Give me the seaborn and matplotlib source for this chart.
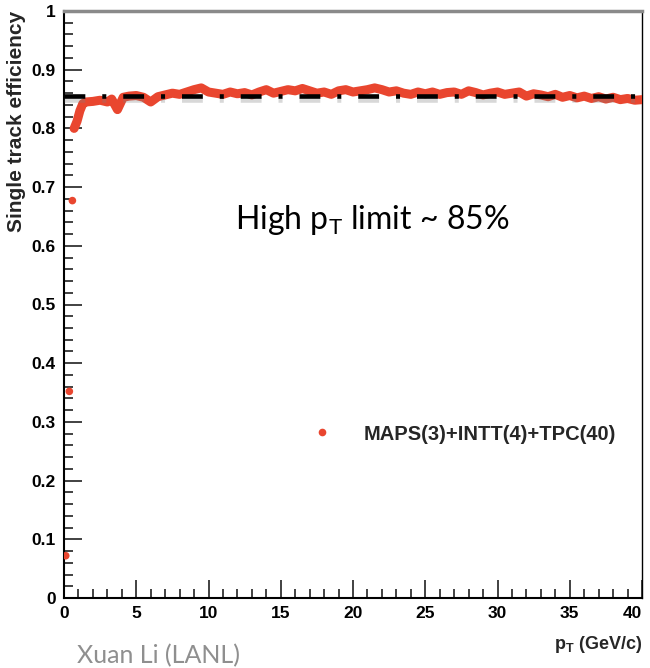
import matplotlib
matplotlib.use("Agg")
import matplotlib.pyplot as plt
import matplotlib.patheffects as pe
from matplotlib.lines import Line2D
from matplotlib.ticker import MultipleLocator
import seaborn as sns
import pandas as pd

# ---- data ----
pt_low = [0.12, 0.37, 0.58]
eff_low = [0.072, 0.352, 0.677]

pt_curve = [0.7, 0.9, 1.1, 1.3, 1.5, 2.0, 2.5, 3.0, 3.3, 3.7, 4.1, 4.5, 5.0, 5.5,
            6.0, 6.5, 7.0, 7.5, 8.0, 8.5, 9.0, 9.5, 10.0, 10.5, 11.0, 11.5, 12.0,
            12.5, 13.0, 13.5, 14.0, 14.5, 15.0, 15.5, 16.0, 16.5, 17.0, 17.5, 18.0,
            18.5, 19.0, 19.5, 20.0, 20.5, 21.0, 21.5, 22.0, 22.5, 23.0, 23.5, 24.0,
            24.5, 25.0, 25.5, 26.0, 26.5, 27.0, 27.5, 28.0, 28.5, 29.0, 29.5, 30.0,
            30.5, 31.0, 31.5, 32.0, 32.5, 33.0, 33.5, 34.0, 34.5, 35.0, 35.5, 36.0,
            36.5, 37.0, 37.5, 38.0, 38.5, 39.0, 39.5, 40.0]
eff_curve = [0.800, 0.812, 0.830, 0.842, 0.845, 0.846, 0.848, 0.845, 0.850, 0.832,
             0.853, 0.855, 0.856, 0.853, 0.845, 0.854, 0.857, 0.860, 0.858, 0.862,
             0.866, 0.869, 0.862, 0.860, 0.858, 0.862, 0.859, 0.861, 0.857, 0.862,
             0.866, 0.860, 0.863, 0.866, 0.864, 0.868, 0.864, 0.860, 0.862, 0.858,
             0.864, 0.866, 0.862, 0.864, 0.866, 0.869, 0.866, 0.862, 0.864, 0.860,
             0.858, 0.862, 0.859, 0.862, 0.858, 0.861, 0.862, 0.858, 0.864, 0.861,
             0.857, 0.860, 0.862, 0.858, 0.860, 0.862, 0.855, 0.859, 0.857, 0.854,
             0.858, 0.853, 0.856, 0.852, 0.855, 0.851, 0.854, 0.850, 0.853, 0.849,
             0.851, 0.848, 0.849]

limit_value = 0.856
series_label = "MAPS(3)+INTT(4)+TPC(40)"
x_label = r"$\mathbf{p}_{\mathbf{T}}$ (GeV/c)"
y_label = "Single track efficiency"
annotation = r"High p$_{\mathsf{T}}$ limit ~ 85%"
credit = "Xuan Li (LANL)"
x_ticks = [0, 5, 10, 15, 20, 25, 30, 35, 40]
x_ticklabels = ["0", "5", "10", "15", "20", "25", "30", "35", "40"]
y_ticks = [0, 0.1, 0.2, 0.3, 0.4, 0.5, 0.6, 0.7, 0.8, 0.9, 1.0]
y_ticklabels = ["0", "0.1", "0.2", "0.3", "0.4", "0.5", "0.6", "0.7", "0.8", "0.9", "1"]

RED = "#e9462f"

sns.set_style("white")
plt.rcParams["font.family"] = ["Liberation Sans Narrow", "Liberation Sans", "DejaVu Sans"]
plt.rcParams["mathtext.fontset"] = "custom"
plt.rcParams["mathtext.bf"] = "Liberation Sans:bold"
plt.rcParams["mathtext.rm"] = "Liberation Sans"
plt.rcParams["mathtext.sf"] = "Lato"
plt.rcParams["lines.scale_dashes"] = False

fig = plt.figure(figsize=(6.5, 6.68), dpi=100)
ax = fig.add_axes([64 / 650, 1 - 598 / 668, (642 - 64) / 650, (598 - 11) / 668])

df_curve = pd.DataFrame({"pt": pt_curve, "eff": eff_curve})
df_low = pd.DataFrame({"pt": pt_low, "eff": eff_low})

sns.lineplot(data=df_curve, x="pt", y="eff", color=RED, lw=6.5, ax=ax,
             solid_capstyle="round", zorder=3)
sns.scatterplot(data=df_low, x="pt", y="eff", color=RED, s=30, edgecolor="none",
                ax=ax, zorder=3)

ax.axhline(limit_value, color="black", lw=3.3, dashes=(15, 12.2, 2.9, 12.2),
           dash_capstyle="butt", zorder=4,
           path_effects=[pe.SimpleLineShadow(offset=(0, -3), shadow_color="gray", alpha=0.3),
                         pe.Normal()])

ax.set_xlim(0, 40)
ax.set_ylim(0, 1)
ax.set_xticks(x_ticks)
ax.set_xticklabels(x_ticklabels)
ax.set_yticks(y_ticks)
ax.set_yticklabels(y_ticklabels)
ax.xaxis.set_minor_locator(MultipleLocator(1))
ax.yaxis.set_minor_locator(MultipleLocator(0.02))

ax.tick_params(which="both", direction="in", colors="#333333", width=1.3,
               bottom=True, left=True, top=False, right=False)
ax.tick_params(which="major", length=13, labelsize=12.5, pad=6)
ax.tick_params(which="minor", length=6.5)
for lab in ax.get_xticklabels() + ax.get_yticklabels():
    lab.set_fontweight("bold")
    lab.set_color("black")
ax.get_xticklabels()[-1].set_horizontalalignment("right")

for side in ["left", "bottom"]:
    ax.spines[side].set_color("black")
    ax.spines[side].set_linewidth(1.5)
ax.spines["right"].set_color("black")
ax.spines["right"].set_linewidth(1.0)
ax.spines["top"].set_color("#8a8a8a")
ax.spines["top"].set_linewidth(2.5)

ax.set_xlabel(x_label, fontsize=13, fontweight="bold", loc="right")
ax.xaxis.set_label_coords(1.0, -0.062)
ax.set_ylabel(y_label, fontsize=15, fontweight="bold", loc="top",
              family=["Liberation Sans", "DejaVu Sans"])
ax.yaxis.set_label_coords(-0.066, 1.0)

ax.text(11.83, 0.629, annotation, fontsize=23, family=["Lato", "DejaVu Sans"],
        ha="left", va="baseline", color="black")

handle = Line2D([], [], ls="none", marker="o", color=RED, markersize=5.5,
                markeredgewidth=0)
leg = ax.legend(handles=[handle], labels=[series_label], loc="center left",
                bbox_to_anchor=((312 - 64) / 578, (598 - 434) / 587),
                frameon=False, handlelength=1.0, handletextpad=1.55,
                borderpad=0, borderaxespad=0,
                prop={"family": ["Liberation Sans", "DejaVu Sans"],
                      "weight": "bold", "size": 14.5})

fig.text(77 / 650, 1 - 663 / 668, credit, fontsize=18, color="#8f8f8f",
         family=["Lato", "DejaVu Sans"], ha="left", va="baseline")

fig.savefig("out.png", dpi=100)
